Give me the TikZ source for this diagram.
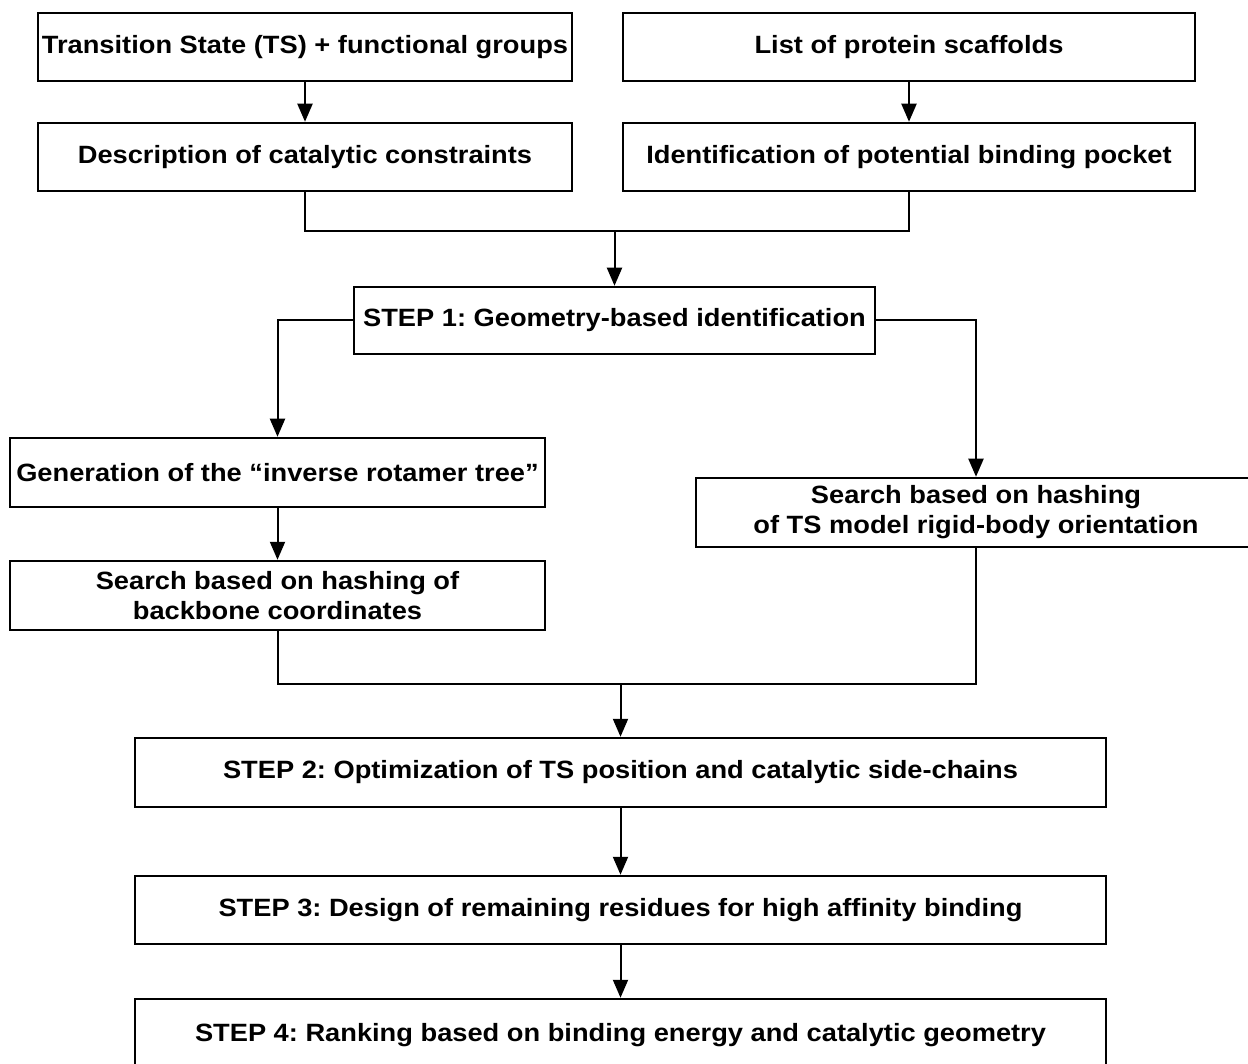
\documentclass[tikz,border=0pt]{standalone}
\usepackage{fontspec}
\setmainfont{Liberation Sans}[FakeStretch=1.09]
\usetikzlibrary{arrows.meta}
\frenchspacing
\begin{document}
\begin{tikzpicture}[x=1pt,y=-1pt,
  box/.style={draw=black,line width=2.5pt,rectangle,inner sep=0pt,align=center,
    font=\fontsize{25}{30}\selectfont\bfseries},
  conn/.style={line width=2pt,draw=black},
  arr/.style={conn,-{Triangle[length=18pt,width=15pt]}}]
\clip (0,0) rectangle (1248,1064);
\fill[white] (0,0) rectangle (1248,1064);
\node[box,minimum width=534pt,minimum height=68pt] (b1) at (305,47) {Transition State (TS) + functional groups};
\node[box,minimum width=572pt,minimum height=68pt] (b2) at (909,47) {List of protein scaffolds};
\node[box,minimum width=534pt,minimum height=68pt] (b3) at (305,157) {Description of catalytic constraints};
\node[box,minimum width=572pt,minimum height=68pt] (b4) at (909,157) {Identification of potential binding pocket};
\node[box,minimum width=521pt,minimum height=67pt] (b5) at (614.5,320.5) {STEP 1: Geometry-based identification};
\node[box,minimum width=535pt,minimum height=69pt] (b6) at (277.5,472.5) {Generation of the “inverse rotamer tree”};
\node[box,minimum width=535pt,minimum height=69pt] (b8) at (277.5,595.5) {Search based on hashing of\\backbone coordinates};
\node[box,minimum width=560pt,minimum height=69pt] (b7) at (976,512.5) {Search based on hashing\\of TS model rigid-body orientation};
\node[box,minimum width=971pt,minimum height=69pt] (b9) at (620.5,772.5) {STEP 2: Optimization of TS position and catalytic side-chains};
\node[box,minimum width=971pt,minimum height=68pt] (b10) at (620.5,910) {STEP 3: Design of remaining residues for high affinity binding};
\node[box,minimum width=971pt,minimum height=72pt] (b11) at (620.5,1035) {STEP 4: Ranking based on binding energy and catalytic geometry};
\coordinate (j1) at (614.5,231);
\coordinate (j2) at (620.5,684);
\draw[arr] (b1) -- (b3);
\draw[arr] (b2) -- (b4);
\draw[conn] (b3.south) |- (j1) -| (b4.south);
\draw[arr] (j1) -- (b5.north);
\draw[arr] (b5.west) -| (b6.north);
\draw[arr] (b5.east) -| (b7.north);
\draw[arr] (b6) -- (b8);
\draw[conn] (b8.south) |- (j2) -| (b7.south);
\draw[arr] (j2) -- (b9.north);
\draw[arr] (b9) -- (b10);
\draw[arr] (b10) -- (b11);
\end{tikzpicture}
\end{document}
